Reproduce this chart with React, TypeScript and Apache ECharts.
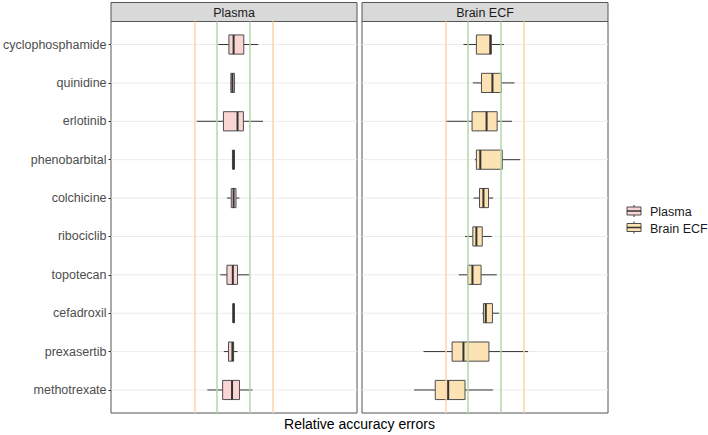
import React, { useEffect, useRef } from "react";
import * as echarts from "echarts";

// Drug categories (top to bottom)
const categories = [
  "cyclophosphamide",
  "quinidine",
  "erlotinib",
  "phenobarbital",
  "colchicine",
  "ribociclib",
  "topotecan",
  "cefadroxil",
  "prexasertib",
  "methotrexate",
];

// Box statistics [whiskerLow, Q1, median, Q3, whiskerHigh] in log2 fold units; null = no data
const plasmaStats: (number[] | null)[] = [
  [-0.39, -0.12, 0.0, 0.26, 0.63],
  [-0.08, -0.07, -0.03, 0.02, 0.04],
  [-0.94, -0.26, 0.1, 0.25, 0.75],
  [-0.03, -0.03, 0.0, 0.02, 0.02],
  [-0.17, -0.06, 0.0, 0.06, 0.15],
  null,
  [-0.34, -0.17, -0.02, 0.1, 0.4],
  [-0.02, -0.02, 0.0, 0.02, 0.02],
  [-0.25, -0.13, -0.03, 0.0, 0.1],
  [-0.67, -0.28, -0.04, 0.15, 0.48],
];

const brainStats: (number[] | null)[] = [
  [-0.54, -0.21, 0.145, 0.17, 0.49],
  [-0.3, -0.08, 0.2, 0.43, 0.76],
  [-1.0, -0.32, 0.05, 0.32, 0.7],
  [-0.25, -0.21, -0.11, 0.45, 0.91],
  [-0.28, -0.13, -0.03, 0.1, 0.22],
  [-0.5, -0.3, -0.21, -0.06, 0.18],
  [-0.66, -0.43, -0.31, -0.09, 0.31],
  [-0.06, -0.03, 0.03, 0.2, 0.37],
  [-1.56, -0.83, -0.54, 0.11, 1.11],
  [-1.8, -1.26, -0.93, -0.5, 0.21],
];

// Reference lines (acceptance limits)
const outerLimits = [-1, 1];
const innerLimits = [-0.425, 0.425];

const panelNames = ["Plasma", "Brain ECF"];
const X_MIN = -3.13;
const X_MAX = 3.15;

const FONT = "Liberation Sans, Arial, sans-serif";

export default function App() {
  const ref = useRef<HTMLDivElement>(null);

  useEffect(() => {
    if (!ref.current) return;
    const chart = echarts.init(ref.current, undefined, { renderer: "svg" });

    const PANEL_TOP = 21.5;
    const PANEL_H = 391.5;
    const PANEL_W = 246;
    const lefts = [111, 362];
    const unit = PANEL_H / 10.2;

    const toData = (stats: (number[] | null)[]) =>
      stats
        .map((s, i) => (s ? [...s, i] : null))
        .filter((d) => d !== null) as number[][];

    const boxRender = (fill: string) => (params: any, api: any) => {
      const y = api.value(5);
      const p = [0, 1, 2, 3, 4].map((k) => api.coord([api.value(k), y]));
      const h = api.size([0, 0.5])[1];
      const cy = p[0][1];
      return {
        type: "group",
        children: [
          {
            type: "line",
            shape: { x1: p[0][0], y1: cy, x2: p[1][0], y2: cy },
            style: { stroke: "#333333", lineWidth: 1 },
          },
          {
            type: "line",
            shape: { x1: p[3][0], y1: cy, x2: p[4][0], y2: cy },
            style: { stroke: "#333333", lineWidth: 1 },
          },
          {
            type: "rect",
            shape: { x: p[1][0], y: cy - h / 2, width: Math.max(p[3][0] - p[1][0], 0.5), height: h },
            style: { fill, stroke: "#4d4d4d", lineWidth: 1 },
          },
          {
            type: "line",
            shape: { x1: p[2][0], y1: cy - h / 2, x2: p[2][0], y2: cy + h / 2 },
            style: { stroke: "#333333", lineWidth: 2 },
          },
        ],
      };
    };

    const gridLineRender = (params: any, api: any) => {
      const i = api.value(0);
      const a = api.coord([X_MIN, i]);
      const b = api.coord([X_MAX, i]);
      return {
        type: "line",
        shape: { x1: a[0], y1: a[1], x2: b[0], y2: b[1] },
        style: { stroke: "#ebebeb", lineWidth: 1 },
      };
    };

    const refLineSeries = (idx: number) => ({
      type: "line",
      xAxisIndex: idx,
      yAxisIndex: idx,
      data: [],
      silent: true,
      z: 2,
      markLine: {
        silent: true,
        symbol: ["none", "none"],
        label: { show: false },
        animation: false,
        data: [
          ...outerLimits.map((v) => ({ xAxis: v, lineStyle: { color: "#fdd5a8", width: 1.5, type: "solid" } })),
          ...innerLimits.map((v) => ({ xAxis: v, lineStyle: { color: "#b3d7ab", width: 1.5, type: "solid" } })),
        ],
      },
    });

    const catIdx = categories.map((_, i) => [i]);

    const legendGlyph = (y: number, fill: string) => [
      { type: "line", shape: { x1: 634, y1: y - 6, x2: 634, y2: y - 4 }, style: { stroke: "#333", lineWidth: 1 } },
      { type: "line", shape: { x1: 634, y1: y + 4, x2: 634, y2: y + 6 }, style: { stroke: "#333", lineWidth: 1 } },
      { type: "rect", shape: { x: 627, y: y - 4, width: 14, height: 8 }, style: { fill, stroke: "#4d4d4d", lineWidth: 1 } },
      { type: "line", shape: { x1: 627, y1: y, x2: 641, y2: y }, style: { stroke: "#333", lineWidth: 1.5 } },
    ];

    const option: any = {
      animation: false,
      textStyle: { fontFamily: FONT },
      grid: [
        { left: lefts[0], top: PANEL_TOP, width: PANEL_W, height: PANEL_H, show: true, borderColor: "#555555", borderWidth: 1, backgroundColor: "transparent" },
        { left: lefts[1], top: PANEL_TOP, width: PANEL_W, height: PANEL_H, show: true, borderColor: "#555555", borderWidth: 1, backgroundColor: "transparent" },
        { left: lefts[0], top: PANEL_TOP + 0.1 * unit, width: PANEL_W, height: PANEL_H - 0.2 * unit },
      ],
      xAxis: [
        { type: "value", gridIndex: 0, min: X_MIN, max: X_MAX, show: false },
        { type: "value", gridIndex: 1, min: X_MIN, max: X_MAX, show: false },
        { type: "value", gridIndex: 2, min: 0, max: 1, show: false },
      ],
      yAxis: [
        { type: "value", gridIndex: 0, min: -0.6, max: 9.6, inverse: true, show: false },
        { type: "value", gridIndex: 1, min: -0.6, max: 9.6, inverse: true, show: false },
        {
          type: "category",
          gridIndex: 2,
          data: categories,
          inverse: true,
          axisLine: { show: false },
          axisTick: { show: true, alignWithLabel: true, length: 3, lineStyle: { color: "#333333" } },
          axisLabel: { color: "#4d4d4d", fontSize: 12.5, margin: 5, fontFamily: FONT },
          splitLine: { show: false },
        },
      ],
      series: [
        { type: "custom", xAxisIndex: 0, yAxisIndex: 0, data: catIdx, renderItem: gridLineRender, silent: true, z: 1 },
        { type: "custom", xAxisIndex: 1, yAxisIndex: 1, data: catIdx, renderItem: gridLineRender, silent: true, z: 1 },
        refLineSeries(0),
        refLineSeries(1),
        {
          type: "custom",
          name: "Plasma",
          xAxisIndex: 0,
          yAxisIndex: 0,
          data: toData(plasmaStats),
          encode: { x: [0, 1, 2, 3, 4], y: 5 },
          renderItem: boxRender("#f9d5d4"),
          z: 3,
        },
        {
          type: "custom",
          name: "Brain ECF",
          xAxisIndex: 1,
          yAxisIndex: 1,
          data: toData(brainStats),
          encode: { x: [0, 1, 2, 3, 4], y: 5 },
          renderItem: boxRender("#fde2b4"),
          z: 3,
        },
      ],
      graphic: [
        ...panelNames.flatMap((name, i) => [
          {
            type: "rect",
            shape: { x: lefts[i], y: 2.5, width: PANEL_W, height: 19 },
            style: { fill: "#d9d9d9", stroke: "#555555", lineWidth: 1 },
          },
          {
            type: "text",
            x: lefts[i] + PANEL_W / 2,
            y: 12.5,
            style: { text: name, fill: "#1a1a1a", fontSize: 12.5, fontFamily: FONT, align: "center", verticalAlign: "middle" },
          },
        ]),
        {
          type: "text",
          x: (lefts[0] + lefts[1] + PANEL_W) / 2,
          y: 424,
          style: { text: "Relative accuracy errors", fill: "#000000", fontSize: 14, fontFamily: FONT, align: "center", verticalAlign: "middle" },
        },
        ...legendGlyph(211, "#f9d5d4"),
        ...legendGlyph(227.5, "#fde2b4"),
        {
          type: "text",
          x: 650,
          y: 212,
          style: { text: panelNames[0], fill: "#1a1a1a", fontSize: 12.5, fontFamily: FONT, align: "left", verticalAlign: "middle" },
        },
        {
          type: "text",
          x: 650,
          y: 228.5,
          style: { text: panelNames[1], fill: "#1a1a1a", fontSize: 12.5, fontFamily: FONT, align: "left", verticalAlign: "middle" },
        },
      ],
    };

    chart.setOption(option);
    return () => chart.dispose();
  }, []);

  return <div ref={ref} style={{ width: 708, height: 435, position: "absolute", left: 0, top: 0 }} />;
}
